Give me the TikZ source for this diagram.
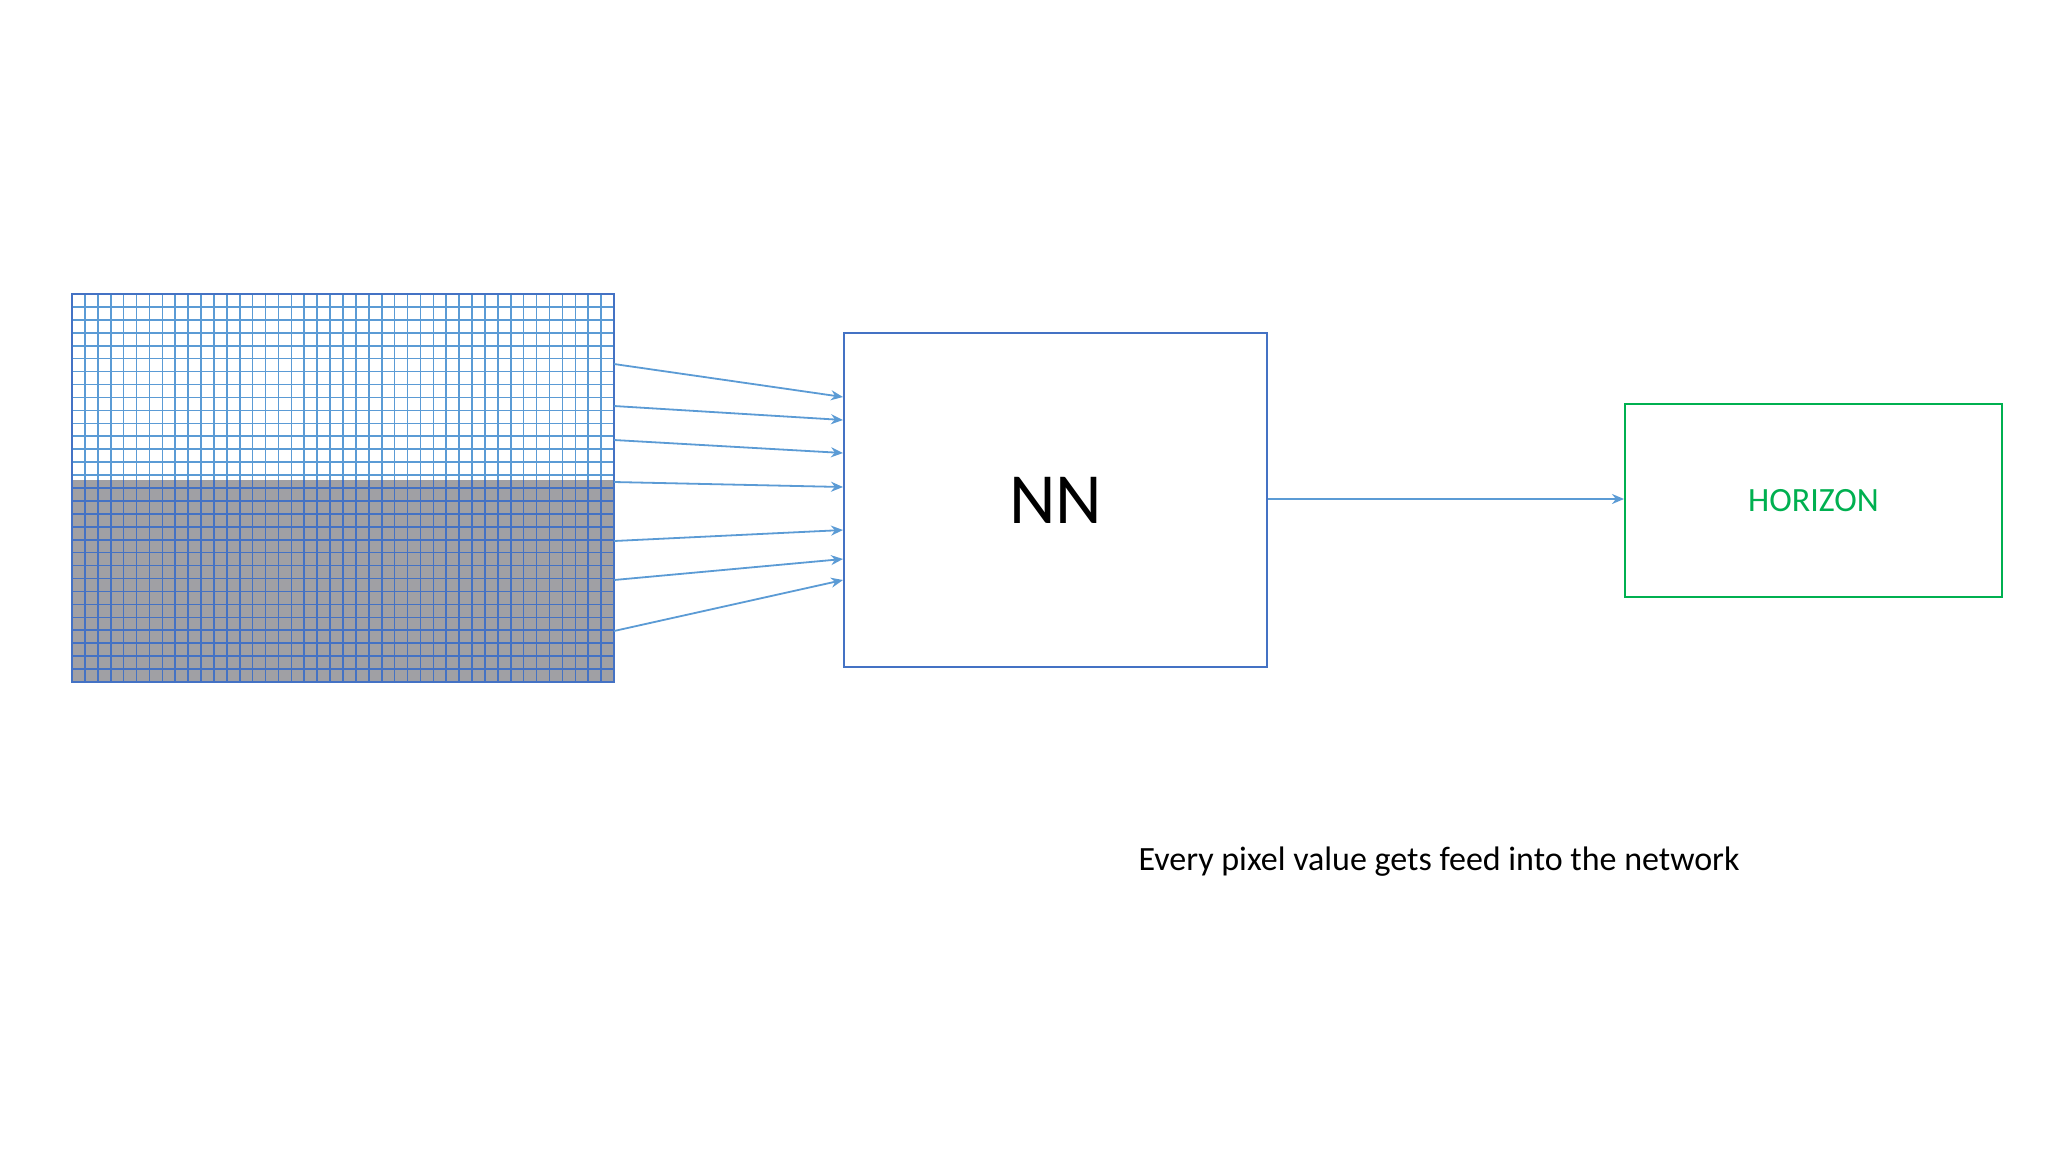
\documentclass[tikz,border=0pt]{standalone}
\usepackage{fontspec}
\setmainfont{Carlito}
\usetikzlibrary{arrows.meta}
\definecolor{gridblue}{RGB}{91,155,213}
\definecolor{boxblue}{RGB}{68,114,196}
\definecolor{hgreen}{RGB}{0,176,80}
\definecolor{gfill}{RGB}{160,160,164}
\tikzset{feed/.style={draw=gridblue,line width=0.9pt,-{Stealth[length=6pt,width=5pt]}},
 gridline/.style={draw=gridblue,line width=0.8pt}}
\begin{document}
\begin{tikzpicture}[x=0.5pt,y=-0.5pt]
\useasboundingbox[fill=white] (0,0) rectangle (2048,1152);
% image grid
\fill[gfill] (72,480) rectangle (614,682);
\foreach \i in {0,...,42} {\draw[gridline] ({72+\i*12.905},294) -- ({72+\i*12.905},480);}
\foreach \i in {0,...,42} {\draw[gridline,draw=boxblue] ({72+\i*12.905},480) -- ({72+\i*12.905},682);}
\foreach \j in {0,...,30} {\pgfmathsetmacro\yy{294+\j*12.933}
  \ifdim\yy pt<480pt \draw[gridline] (72,\yy) -- (614,\yy); \else \draw[gridline,draw=boxblue] (72,\yy) -- (614,\yy); \fi}
\draw[boxblue,line width=1pt] (72,294) rectangle (614,682);
% nodes
\node[draw=boxblue,line width=1pt,minimum width=211.5pt,minimum height=167pt,inner sep=0pt,font=\fontsize{36}{40}\selectfont] (nn) at (1055.5,500) {NN};
\node[draw=hgreen,line width=1pt,minimum width=188.5pt,minimum height=96.5pt,inner sep=0pt,text=hgreen,font=\fontsize{17}{20}\selectfont] (hz) at (1813.5,500.5) {HORIZON};
\node[font=\fontsize{17}{20}\selectfont] (cap) at (1439,862) {Every pixel value gets feed into the network};
% arrows
\foreach \n/\a/\b in {1/364/397,2/406/420,3/440/453,4/482/487,5/541/530,6/580/559,7/631/580} {
  \coordinate (s\n) at (614,\a);
  \coordinate (e\n) at (nn.west |- 0,\b);
  \draw[feed] (s\n) -- (e\n);}
\draw[feed] (nn.east |- 0,499) -- (hz.west |- 0,499);
\end{tikzpicture}
\end{document}
